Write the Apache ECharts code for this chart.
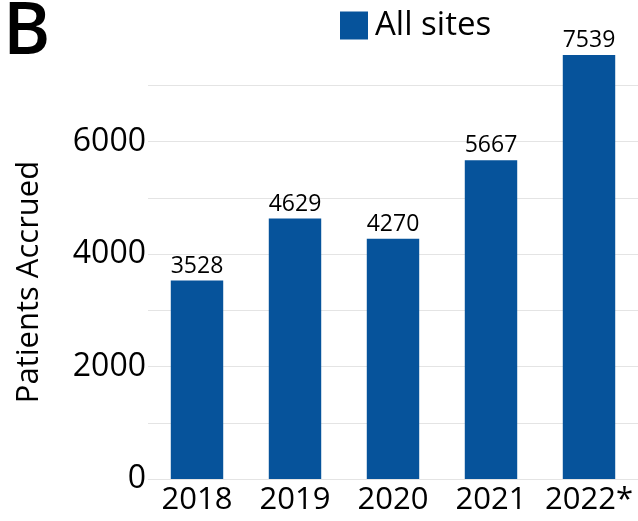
<!DOCTYPE html>
<html><head><meta charset="utf-8">
<script src="https://cdn.jsdelivr.net/npm/echarts@6/dist/echarts.min.js"></script>
<style>html,body{margin:0;padding:0;background:#fff}#c{width:638px;height:521px}</style>
</head><body><div id="c"></div>
<script>
const categories = ['2018', '2019', '2020', '2021', '2022*'];
const patients = [3528, 4629, 4270, 5667, 7539];
const yTickLabels = [0, 2000, 4000, 6000];
const seriesName = 'All sites';
const panelLabel = 'B';
const yAxisTitle = 'Patients Accrued';

const FONT = '"Open Sans", "Noto Sans", sans-serif';
const chart = echarts.init(document.getElementById('c'));
chart.setOption({
  animation: false,
  backgroundColor: '#fff',
  textStyle: { fontFamily: FONT },
  title: {
    text: panelLabel, left: -2, top: -8,
    textStyle: { fontFamily: FONT, fontSize: 72, fontWeight: 600, color: '#000' }
  },
  graphic: [{
    type: 'text', x: 14, y: 282, rotation: Math.PI / 2,
    style: { text: yAxisTitle, fontFamily: FONT, fontSize: 31, fill: '#000', align: 'center', verticalAlign: 'top' }
  }],
  legend: {
    data: [seriesName], left: 335, top: 4, itemWidth: 28, itemHeight: 28, itemGap: 4, icon: 'rect',
    textStyle: { fontFamily: FONT, fontSize: 33, color: '#000', padding: [0, 0, 0, 2] }
  },
  grid: { left: 148, right: -5, top: 29, bottom: 42, containLabel: false },
  xAxis: {
    type: 'category', data: categories,
    axisLine: { show: false }, axisTick: { show: false },
    axisLabel: { interval: 0, fontFamily: FONT, fontSize: 31, color: '#000', margin: 6 }
  },
  yAxis: {
    type: 'value', min: 0, max: 8000, interval: 1000,
    axisLine: { show: false }, axisTick: { show: false },
    axisLabel: {
      fontFamily: FONT, fontSize: 32, color: '#000', margin: 2,
      formatter: v => yTickLabels.includes(v) ? String(v) : ''
    },
    splitLine: { lineStyle: { width: 1, color: ['#e4e4e4','#e4e4e4','#e4e4e4','#e4e4e4','#e4e4e4','#e4e4e4','#e4e4e4','#e4e4e4','rgba(0,0,0,0)'] } }
  },
  series: [{
    name: seriesName, type: 'bar', data: patients, barWidth: '53.5%',
    itemStyle: { color: '#06539b' },
    label: { show: true, position: 'top', distance: 3, fontFamily: FONT, fontSize: 23, color: '#000' }
  }]
});
</script></body></html>
